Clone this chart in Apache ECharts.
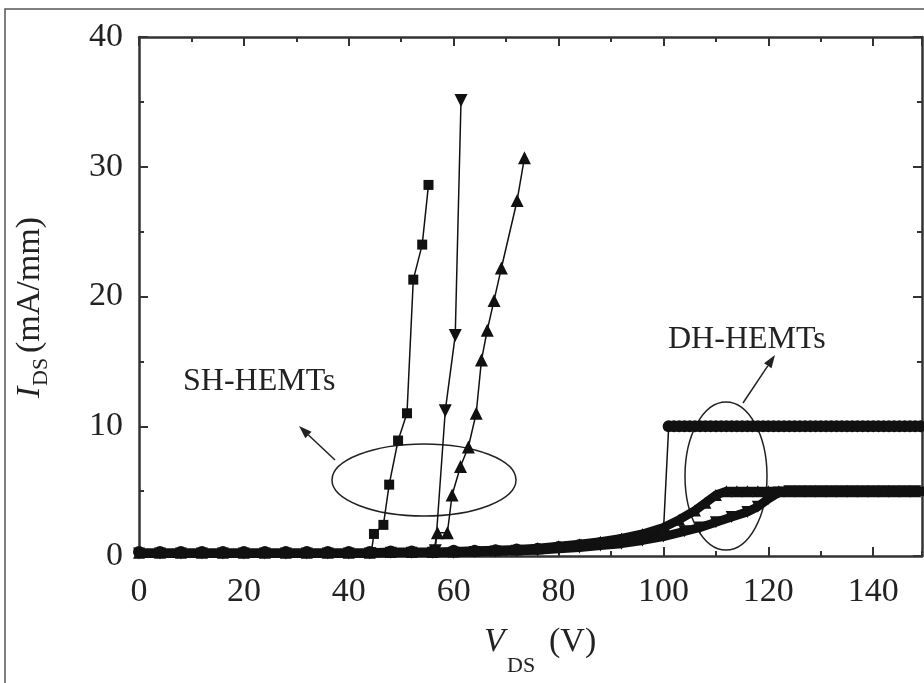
<!DOCTYPE html>
<html lang="en">
<head>
<meta charset="UTF-8">
<title>IDS - VDS breakdown</title>
<script src="https://cdn.jsdelivr.net/npm/echarts@6/dist/echarts.min.js"></script>
<style>
    *{margin:0;padding:0;}
    body{background:#fff;}
    #main{width:924px;height:683px;}
</style>
</head>
<body>
<div id="main"></div>
<script>
    // SH-HEMTs
    const shSquareV = [44.3, 44.8, 46.6, 47.7, 49.4, 51.1, 52.3, 54.0, 55.2];
    const shSquareI = [0.3, 1.7, 2.4, 5.5, 8.9, 11.0, 21.3, 24.0, 28.6];
    const shDownV = [56.5, 58.4, 60.3, 61.4];
    const shDownI = [0.4, 11.2, 17.0, 35.1];
    const shUpV = [56.2, 56.9, 58.8, 59.7, 61.3, 62.8, 64.3, 65.3, 66.4, 67.7, 69.1, 72.1, 73.5];
    const shUpI = [0.4, 1.8, 1.8, 4.7, 6.9, 8.4, 11.0, 15.1, 17.4, 19.7, 22.2, 27.4, 30.7];

    // DH-HEMTs
    const dhCircleV = [0,4,8,12,16,20,24,28,32,36,40,44,48,52,56,60,64,68,72,76,80,84,88,92,96,100,
        101,102,103,104,105,106,107,108,109,110,111,112,113,114,115,116,117,118,119,120,121,122,123,124,125,
        126,127,128,129,130,131,132,133,134,135,136,137,138,139,140,141,142,143,144,145,146,147,148,149,150];
    const dhCircleI = [0.3,0.3,0.3,0.3,0.3,0.3,0.3,0.3,0.3,0.3,0.3,0.3,0.35,0.35,0.35,0.4,0.4,0.45,0.5,0.55,0.7,0.85,1.0,1.25,1.5,1.9,
        10,10,10,10,10,10,10,10,10,10,10,10,10,10,10,10,10,10,10,10,10,10,10,10,10,
        10,10,10,10,10,10,10,10,10,10,10,10,10,10,10,10,10,10,10,10,10,10,10,10,10];
    const dhUpV = [0,4,8,12,16,20,24,28,32,36,40,44,48,52,56,60,64,68,72,76,80,84,
        88,92,96,100,103,106,108,110,112,
        114,116,118,120,122,124,126,128,130,132,134,136,138,140,142,144,146,148,150];
    const dhUpI = [0.25,0.25,0.25,0.25,0.25,0.25,0.25,0.25,0.25,0.25,0.25,0.25,0.3,0.3,0.3,0.35,0.4,0.45,0.5,0.6,0.75,0.9,
        1.1,1.35,1.7,2.2,2.8,3.5,4.1,4.7,5.0,
        5,5,5,5,5,5,5,5,5,5,5,5,5,5,5,5,5,5,5];
    const dhDownV = [0,4,8,12,16,20,24,28,32,36,40,44,48,52,56,60,64,68,72,76,80,84,88,92,96,
        100,104,107,110,113,116,118,120,122,
        124,126,128,130,132,134,136,138,140,142,144,146,148,150];
    const dhDownI = [0.2,0.2,0.2,0.2,0.2,0.2,0.2,0.2,0.2,0.2,0.2,0.2,0.25,0.25,0.25,0.25,0.3,0.35,0.4,0.45,0.55,0.65,0.8,0.95,1.2,
        1.5,1.9,2.2,2.6,3.0,3.4,3.8,4.4,4.9,
        5,5,5,5,5,5,5,5,5,5,5,5,5,5];

    const xMax = 149.3;
    const ink = '#111';
    const axisCol = '#333';
    const serif = 'Liberation Serif';

    const pts = (xs, ys) => xs.map((x, i) => [x, ys[i]]);

    // x axes: major (20) and minor (10) ticks, bottom and top
    function xAx(pos, interval, len, labels) {
        return {
            type: 'value', min: 0, max: xMax, interval: interval, position: pos,
            axisLine: {show: interval === 20, onZero: false, lineStyle: {color: axisCol, width: 2.5}},
            axisTick: {show: true, inside: true, length: len, lineStyle: {color: axisCol, width: 2}},
            splitLine: {show: false},
            axisLabel: {
                show: labels, margin: 19, fontFamily: serif, fontSize: 34, color: '#222',
                showMaxLabel: false,
                formatter: v => (v % 20 === 0 ? String(v) : '')
            }
        };
    }
    function yAx(pos, labels) {
        return {
            type: 'value', min: 0, max: 40, interval: 10, position: pos,
            axisLine: {show: true, onZero: false, lineStyle: {color: axisCol, width: 2.5}},
            axisTick: {show: true, inside: true, length: 9, lineStyle: {color: axisCol, width: 2}},
            minorTick: {show: true, splitNumber: 2, length: 5, lineStyle: {color: axisCol, width: 2}},
            splitLine: {show: false},
            axisLabel: {show: labels, margin: 16, fontFamily: serif, fontSize: 34, color: '#222'}
        };
    }

    function arrow(x1, y1, x2, y2) {
        const a = Math.atan2(y2 - y1, x2 - x1), L = 13, W = 4.5;
        const bx = x2 - L * Math.cos(a), by = y2 - L * Math.sin(a);
        return [
            {type: 'line', shape: {x1: x1, y1: y1, x2: bx, y2: by}, style: {stroke: '#222', lineWidth: 1.5}},
            {type: 'polygon', shape: {points: [[x2, y2],
                [bx + W * Math.sin(a), by - W * Math.cos(a)],
                [bx - W * Math.sin(a), by + W * Math.cos(a)]]}, style: {fill: '#222'}}
        ];
    }

    const chart = echarts.init(document.getElementById('main'));

    const option = {
        backgroundColor: '#fff',
        animation: false,
        grid: {left: 139, right: 2, top: 37, bottom: 127},
        xAxis: [
            xAx('bottom', 20, 9, true),
            xAx('bottom', 10, 5, false),
            xAx('top', 20, 9, false),
            xAx('top', 10, 5, false)
        ],
        yAxis: [yAx('left', true), yAx('right', false)],
        graphic: [
            // frame around the figure
            {type: 'polyline', shape: {points: [[5, 683], [5, 9], [924, 9]]}, style: {stroke: '#555', lineWidth: 1.5, fill: null}},
            {type: 'ellipse', shape: {cx: 424, cy: 480, rx: 92, ry: 36}, style: {fill: null, stroke: '#222', lineWidth: 1.5}},
            {type: 'ellipse', shape: {cx: 726, cy: 476, rx: 41, ry: 74}, style: {fill: null, stroke: '#222', lineWidth: 1.5}},
            ...arrow(335, 460, 299, 426),
            ...arrow(743, 403, 775, 355),
            {type: 'text', left: 183, top: 366, style: {text: 'SH-HEMTs', font: '32px "Liberation Serif"', fill: '#222'}},
            {type: 'text', left: 668, top: 324, style: {text: 'DH-HEMTs', font: '32px "Liberation Serif"', fill: '#222'}},
            // x axis title
            {type: 'text', x: 484, y: 642, style: {text: 'V', font: 'italic 34px "Liberation Serif"', fill: '#222', verticalAlign: 'middle'}},
            {type: 'text', x: 507, y: 666, style: {text: 'DS', font: '22px "Liberation Serif"', fill: '#222', verticalAlign: 'middle'}},
            {type: 'text', x: 549, y: 642, style: {text: '(V)', font: '34px "Liberation Serif"', fill: '#222', verticalAlign: 'middle'}},
            // y axis title
            {
                type: 'group', x: 30, y: 298, rotation: Math.PI / 2,
                children: [
                    {type: 'text', x: -100, y: 0, style: {text: 'I', font: 'italic 34px "Liberation Serif"', fill: '#222', verticalAlign: 'middle'}},
                    {type: 'text', x: -88, y: 11, style: {text: 'DS', font: '22px "Liberation Serif"', fill: '#222', verticalAlign: 'middle'}},
                    {type: 'text', x: -55, y: 0, style: {text: '(mA/mm)', font: '34px "Liberation Serif"', fill: '#222', verticalAlign: 'middle'}}
                ]
            }
        ],
        series: [
            {
                type: 'line', data: pts(dhDownV, dhDownI), symbol: 'triangle', symbolRotate: 180, symbolSize: 12,
                showAllSymbol: true, lineStyle: {color: ink, width: 9}, itemStyle: {color: ink}, clip: true
            },
            {
                type: 'line', data: pts(dhUpV, dhUpI), symbol: 'triangle', symbolSize: 12,
                showAllSymbol: true, lineStyle: {color: ink, width: 9}, itemStyle: {color: ink}, clip: true
            },
            {
                type: 'line', data: pts(dhCircleV, dhCircleI), symbol: 'circle', symbolSize: 12,
                showAllSymbol: true, lineStyle: {color: ink, width: 1.5}, itemStyle: {color: ink}, clip: true
            },
            {
                type: 'line', data: pts(shSquareV, shSquareI), symbol: 'rect', symbolSize: 10,
                lineStyle: {color: ink, width: 1.5}, itemStyle: {color: ink}
            },
            {
                type: 'line', data: pts(shDownV, shDownI), symbol: 'triangle', symbolRotate: 180, symbolSize: 13,
                lineStyle: {color: ink, width: 1.5}, itemStyle: {color: ink}
            },
            {
                type: 'line', data: pts(shUpV, shUpI), symbol: 'triangle', symbolSize: 13,
                lineStyle: {color: ink, width: 1.5}, itemStyle: {color: ink}
            }
        ]
    };

    chart.setOption(option);
</script>
</body>
</html>
